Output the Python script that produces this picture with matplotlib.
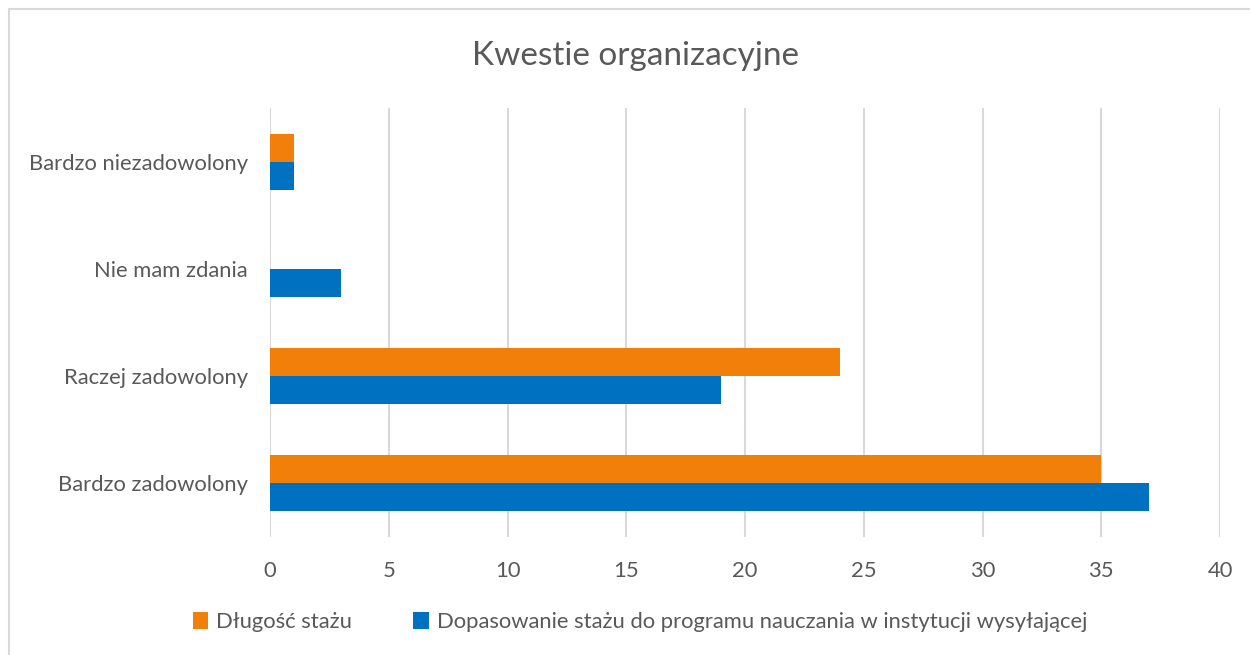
import matplotlib.pyplot as plt
from matplotlib.patches import Rectangle
import numpy as np

plt.rcParams['font.family'] = ['Lato', 'DejaVu Sans']

categories = ['Bardzo zadowolony', 'Raczej zadowolony', 'Nie mam zdania', 'Bardzo niezadowolony']
dlugosc = [35, 24, 0, 1]
dopasowanie = [37, 19, 3, 1]
series_names = ['Długość stażu', 'Dopasowanie stażu do programu nauczania w instytucji wysyłającej']
x_ticks = [0, 5, 10, 15, 20, 25, 30, 35, 40]

orange = '#F0800A'
blue = '#0070C0'
text_col = '#595959'
grid_col = '#D9D9D9'

W, H = 1250, 655
fig = plt.figure(figsize=(W / 100, H / 100), dpi=100)

# chart frame (extends past right and bottom edge in the reference)
fig.patches.append(Rectangle((9 / W, -0.1), 1.2, 1 - 9 / H + 0.1, transform=fig.transFigure,
                             fill=False, edgecolor='#D9D9D9', linewidth=1.5))

ax = fig.add_axes([270 / W, 1 - 537 / H, 950 / W, (537 - 108) / H])

y = np.arange(len(categories))
h = 0.26
ax.barh(y + h / 2, dlugosc, height=h, color=orange, label=series_names[0], zorder=3)
ax.barh(y - h / 2, dopasowanie, height=h, color=blue, label=series_names[1], zorder=3)

ax.set_xlim(0, 40)
ax.set_ylim(-0.5, 3.5)
ax.set_xticks(x_ticks)
ax.set_yticks(y)
ax.set_yticklabels(categories)
ax.tick_params(axis='both', length=0, labelsize=15.8, labelcolor=text_col)
ax.tick_params(axis='y', pad=16)
ax.tick_params(axis='x', pad=17)
ax.grid(axis='x', color=grid_col, linewidth=1.5, zorder=0)
for s in ax.spines.values():
    s.set_visible(False)

fig.text(636 / W, 1 - 56 / H, 'Kwestie organizacyjne', ha='center', va='center',
         fontsize=24, color=text_col)

fig.legend(loc='center', bbox_to_anchor=(640 / W, 1 - 622 / H), ncol=2, frameon=False,
           fontsize=15.8, labelcolor=text_col, handlelength=0.7, handleheight=0.8,
           handletextpad=0.35, columnspacing=2.8)

fig.savefig('out.png', dpi=100)
